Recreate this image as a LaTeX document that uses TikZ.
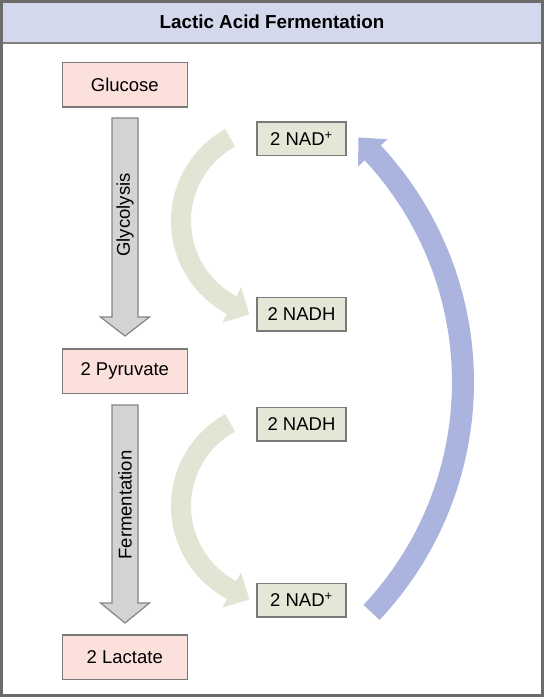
\documentclass[tikz,border=0pt]{standalone}
\usepackage{fontspec}
\setmainfont{Liberation Sans}
\definecolor{framec}{HTML}{6B6B6B}
\definecolor{titlec}{HTML}{D4D8EC}
\definecolor{sepc}{HTML}{808080}
\definecolor{boxline}{HTML}{7A7A7A}
\definecolor{pinkc}{HTML}{FBE0DB}
\definecolor{greenboxc}{HTML}{E2E7D6}
\definecolor{greyarrowc}{HTML}{D1D3D4}
\definecolor{greyarrowline}{HTML}{858585}
\definecolor{greenarcc}{HTML}{E0E6D3}
\definecolor{bluearcc}{HTML}{AAB4DE}
\begin{document}
\begin{tikzpicture}[x=1pt,y=-1pt,
  txt/.style={font=\fontsize{18.5}{21}\selectfont, text=black},
  box/.style={txt, draw=boxline, line width=1.5pt, inner sep=0pt},
  pinkbox/.style={box, fill=pinkc, minimum width=125pt, minimum height=44.5pt},
  greenbox/.style={box, fill=greenboxc, minimum width=89pt, minimum height=33.5pt},
  greyarrow/.style={fill=greyarrowc, draw=greyarrowline, line width=1.2pt, line join=miter},
  greenarrow/.style={fill=greenarcc},
  bluearrow/.style={fill=bluearcc},
  sidelabel/.style={txt, rotate=90, inner sep=0pt}
]
\useasboundingbox (0,0) rectangle (544,697);
% frame and title band
\fill[white] (0,0) rectangle (544,697);
\fill[titlec] (3,3) rectangle (541,42.5);
\draw[sepc, line width=2pt] (3,43) -- (541,43);
\draw[framec, line width=3pt] (1.5,1.5) rectangle (542.5,695.5);
\node[txt, font=\bfseries\fontsize{18.8}{21}\selectfont] (title) at (272,22) {Lactic Acid Fermentation};

% grey block arrows
\draw[greyarrow] (112,118) -- (138,118) -- (138,317) -- (149.5,317) -- (125,336) -- (100.5,317) -- (112,317) -- cycle;
\draw[greyarrow] (112,405) -- (138,405) -- (138,603) -- (149.5,603) -- (125,623) -- (100.5,603) -- (112,603) -- cycle;
\node[sidelabel] (glylab) at (125,215) {Glycolysis};
\node[sidelabel] (ferlab) at (125,505) {Fermentation};

% green curved arrows
\foreach \cy in {221,506}{
  \fill[greenarrow] plot[domain=241.1:117.8, samples=50] ({276+105*cos(\x)},{\cy+105*sin(\x)})
    -- ({276+115*cos(117.8)},{\cy+115*sin(117.8)})
    -- ({276+95*cos(117.8)+20*sin(117.8)},{\cy+95*sin(117.8)-20*cos(117.8)})
    -- ({276+75*cos(117.8)},{\cy+75*sin(117.8)})
    -- plot[domain=117.8:241.1, samples=50] ({276+85*cos(\x)},{\cy+85*sin(\x)}) -- cycle;
}

% blue curved arrow
\fill[bluearrow] plot[domain=43.3:-43, samples=80] ({127+347*cos(\x)},{382+347*sin(\x)})
  -- ({127+356*cos(-43)},{382+356*sin(-43)})
  -- ({127+336*cos(-43)+21*sin(-43)},{382+336*sin(-43)-21*cos(-43)})
  -- ({127+316*cos(-43)},{382+316*sin(-43)})
  -- plot[domain=-43:43.3, samples=80] ({127+325*cos(\x)},{382+325*sin(\x)}) -- cycle;

% boxes
\node[pinkbox] (glu) at (124.8,84.5) {Glucose};
\node[pinkbox] (pyr) at (124.8,371) {2 Pyruvate};
\node[pinkbox] (lac) at (124.8,657) {2 Lactate};
\node[greenbox] (nadA) at (301.5,138.5) {2 NAD\textsuperscript{+}};
\node[greenbox] (nadhA) at (301.5,314) {2 NADH};
\node[greenbox] (nadhB) at (301.5,424) {2 NADH};
\node[greenbox] (nadB) at (301.5,600) {2 NAD\textsuperscript{+}};
\end{tikzpicture}
\end{document}
